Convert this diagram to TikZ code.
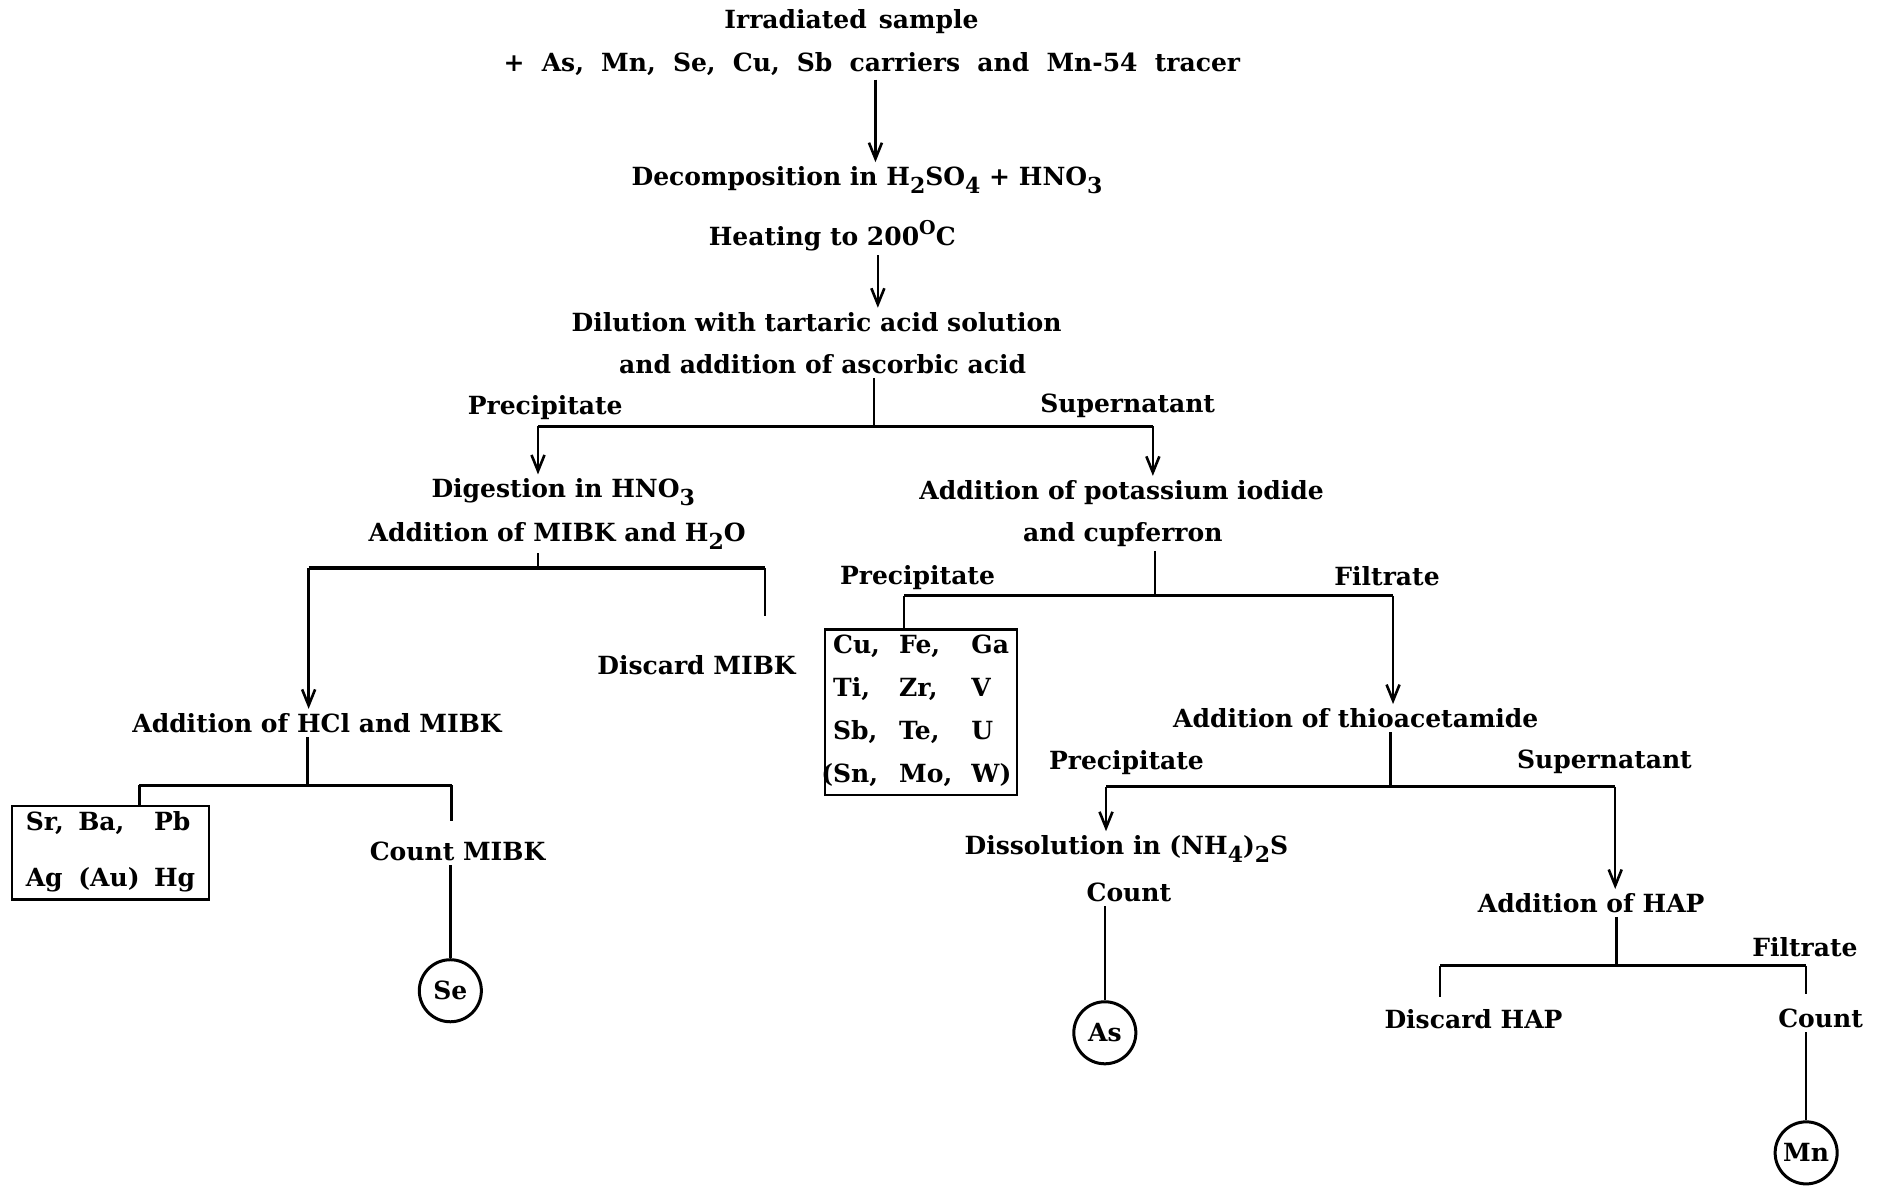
\documentclass[tikz,border=0pt]{standalone}
\usepackage{fontspec}
\setmainfont{DejaVu Serif}
\usetikzlibrary{arrows.meta}
% chemical indices set low and large, as in typewritten formulas
\newcommand\sbs[1]{\raisebox{-0.6ex}{\fontsize{11}{12}\selectfont #1}}
\newcommand\sps[1]{\raisebox{0.85ex}{\fontsize{9.5}{10}\selectfont #1}}
\begin{document}
\begin{tikzpicture}[x=0.6pt,y=-0.6pt,
  lbl/.style={font=\bfseries\fontsize{12.5}{15}\selectfont, inner sep=2pt},
  ln/.style={line width=1.2pt},
  bar/.style={line width=1.8pt},
  arr/.style={ln,-{Straight Barb[length=8pt,width=6.5pt,line width=1.3pt]}},
  ebox/.style={draw,line width=1.3pt,inner sep=0pt,font=\bfseries\fontsize{12.5}{15}\selectfont},
  elem/.style={circle,draw,line width=1.5pt,minimum size=31pt,inner sep=0pt,font=\bfseries\fontsize{12.5}{15}\selectfont}]
\useasboundingbox (0,0) rectangle (1568,988);

% ---- main sequence ----
\node[lbl] (irr)    at (709,18)  {\spaceskip=6pt Irradiated sample};
\node[lbl] (carr)   at (726,53)  {\spaceskip=8.6pt + As, Mn, Se, Cu, Sb carriers and Mn-54 tracer};
\node[lbl] (decomp) at (722,150) {Decomposition in H\sbs{2}SO\sbs{4} + HNO\sbs{3}};
\node[lbl] (heat)   at (693,196) {Heating to 200\sps{O}C};
\node[lbl] (dil1)   at (680,268) {Dilution with tartaric acid solution};
\node[lbl] (dil2)   at (685,303) {and addition of ascorbic acid};

\coordinate (xa) at (729,0);
\coordinate (xb) at (731,0);
\draw[arr] (carr.south -| xa) -- (decomp.north -| xa);
\draw[arr] (heat.south -| xb) -- (dil1.north -| xb);

% ---- first split ----
\node[lbl] (prec1)  at (454,339) {Precipitate};
\node[lbl] (sup1)   at (939,338) {Supernatant};
\coordinate (j1)  at (728,355);
\coordinate (j1l) at (448,355);
\coordinate (j1r) at (960,355);
\draw[ln] (dil2.south -| j1) -- (j1);
\draw[bar] (j1l) -- (j1r);

\node[lbl] (dig1) at (469,410) {Digestion in HNO\sbs{3}};
\node[lbl] (dig2) at (464,446) {Addition of MIBK and H\sbs{2}O};
\node[lbl] (ki1)  at (934,410) {Addition of potassium iodide};
\node[lbl] (ki2)  at (935,445) {and cupferron};
\draw[arr] (j1l) -- (dig1.north -| j1l);
\draw[arr] (j1r) -- (ki1.north -| j1r);

% ---- MIBK branch ----
\node[lbl] (discM) at (580,554) {Discard MIBK};
\node[lbl] (hcl)   at (264,602) {Addition of HCl and MIBK};
\coordinate (j2)  at (448,473);
\coordinate (j2l) at (257,473);
\coordinate (j2r) at (637,473);
\draw[ln] (dig2.south -| j2) -- (j2);
\draw[bar] (j2l) -- (j2r);
\draw[arr] (j2l) -- (hcl.north -| j2l);
\draw[ln] (j2r) -- (637,513);

\node[ebox,minimum width=98.4pt,minimum height=46.8pt] (box1) at (92,710)
  {\setlength{\tabcolsep}{3.6pt}\begin{tabular}{@{}lll@{}}Sr, & Ba, & Pb\\[13pt] Ag & (Au) & Hg\end{tabular}};
\node[lbl] (cntM) at (381,709) {Count MIBK};
\node[elem] (se) at (375,825) {Se};
\coordinate (j3)  at (256,654);
\coordinate (j3l) at (116,654);
\coordinate (j3r) at (376,654);
\draw[ln] (hcl.south -| j3) -- (j3);
\draw[bar] (j3l) -- (j3r);
\draw[ln] (j3l) -- (box1.north -| j3l);
\draw[ln] (j3r) -- (376,684);
\draw[ln] (cntM.south -| se) -- (se.north);

% ---- cupferron branch ----
\node[lbl] (prec2) at (764,481)  {Precipitate};
\node[lbl] (filt1) at (1155,480) {Filtrate};
\node[ebox,minimum width=96pt,minimum height=82.8pt] (box2) at (767,593)
  {\setlength{\tabcolsep}{4.8pt}\begin{tabular}{@{}lll@{}}Cu, & Fe, & Ga\\[6.6pt] Ti, & Zr, & V\\[6.6pt] Sb, & Te, & U\\[6.6pt] \llap{(}Sn, & Mo, & W\rlap{)}\end{tabular}};
\node[lbl] (thio) at (1129,598) {Addition of thioacetamide};
\coordinate (j4)  at (962,496);
\coordinate (j4l) at (753,496);
\coordinate (j4r) at (1160,496);
\draw[ln] (ki2.south -| j4) -- (j4);
\draw[bar] (j4l) -- (j4r);
\draw[ln] (j4l) -- (box2.north -| j4l);
\draw[arr] (j4r) -- (thio.north -| j4r);

% ---- thioacetamide branch ----
\node[lbl] (prec3) at (938,635)  {Precipitate};
\node[lbl] (sup2)  at (1336,634) {Supernatant};
\node[lbl] (diss)  at (938,707)  {Dissolution in (NH\sbs{4})\sbs{2}S};
\node[lbl] (cnt1)  at (940,743)  {Count};
\node[elem] (as)   at (920,860)  {As};
\node[lbl] (hap)   at (1325,752) {Addition of HAP};
\coordinate (j5)  at (1158,655);
\coordinate (j5l) at (921,655);
\coordinate (j5r) at (1345,655);
\draw[ln] (thio.south -| j5) -- (j5);
\draw[bar] (j5l) -- (j5r);
\draw[arr] (j5l) -- (diss.north -| j5l);
\draw[arr] (j5r) -- (hap.north -| j5r);
\draw[ln] (cnt1.south -| as) -- (as.north);

% ---- HAP branch ----
\node[lbl] (filt2) at (1503,789) {Filtrate};
\node[lbl] (discH) at (1227,849) {Discard HAP};
\node[lbl] (cnt2)  at (1516,848) {Count};
\node[elem] (mn)   at (1504,960) {Mn};
\coordinate (j6)  at (1346,804);
\coordinate (j6l) at (1199,804);
\coordinate (j6r) at (1504,804);
\draw[ln] (hap.south -| j6) -- (j6);
\draw[bar] (j6l) -- (j6r);
\draw[ln] (j6l) -- (1199,830);
\draw[ln] (j6r) -- (1504,828);
\draw[ln] (cnt2.south -| mn) -- (mn.north);
\end{tikzpicture}
\end{document}
